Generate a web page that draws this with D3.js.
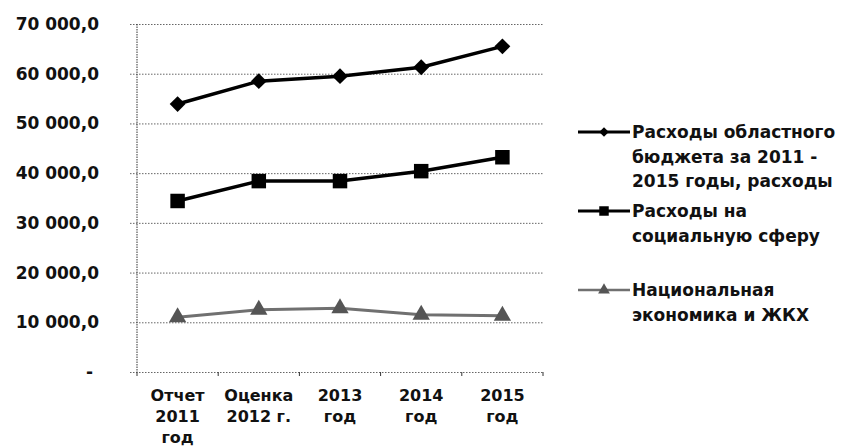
<!DOCTYPE html>
<html>
<head>
<meta charset="utf-8">
<script src="https://cdn.jsdelivr.net/npm/d3@7"></script>
<style>
  body { margin: 0; background: #fff; }
  svg text { font-family: "DejaVu Sans", sans-serif; font-weight: bold; fill: #111; }
</style>
</head>
<body>
<div id="chart"></div>
<script>
// categories (multi-line labels) and series values
let categories = ["Отчет\n2011\nгод", "Оценка\n2012 г.", "2013\nгод", "2014\nгод", "2015\nгод"];
let budgetTotal = [53900, 58500, 59500, 61300, 65500];
let socialSphere = [34400, 38400, 38400, 40400, 43200];
let economyHousing = [11000, 12500, 12800, 11500, 11300];
let yTicks = [0, 10000, 20000, 30000, 40000, 50000, 60000, 70000];
let seriesNames = [
  ["Расходы областного", "бюджета за 2011 -", "2015 годы, расходы"],
  ["Расходы на", "социальную сферу"],
  ["Национальная", "экономика и ЖКХ"]
];

let svgWidth = 844, svgHeight = 446;
let plotLeft = 137, plotRight = 543, plotTop = 24, plotBottom = 372;

let svg = d3.select("#chart").append("svg")
  .attr("width", svgWidth)
  .attr("height", svgHeight)

let xScale = d3.scaleBand().domain(categories).range([plotLeft, plotRight])
let yScale = d3.scaleLinear().domain([0, 70000]).range([plotBottom, plotTop])
let cx = d => xScale(d) + xScale.bandwidth() / 2

let ru = d3.formatLocale({decimal: ",", thousands: "\u00a0", grouping: [3], currency: ["", ""]})
let fmt = ru.format(",.1f")

//horizontal gridlines + y labels
let yAxis = d3.axisLeft(yScale)
  .tickValues(yTicks)
  .tickSize(-(plotRight - plotLeft) - 7)
  .tickPadding(31)
  .tickFormat(d => d === 0 ? "-" : fmt(d))

svg.append("g")
  .attr("transform", `translate(${plotLeft - 7},0)`)
  .call(yAxis)
  .call(g => g.select(".domain").remove())
  .call(g => g.selectAll(".tick line")
    .attr("stroke", "#666")
    .attr("stroke-dasharray", "1.5,1.5"))
  .call(g => g.selectAll(".tick text")
    .attr("x", -31)
    .style("font-size", "17px")
    .style("font-family", "DejaVu Sans")
    .style("font-weight", "bold")
    .style("fill", "#111"))
  .call(g => g.selectAll(".tick").filter(d => d === 0).select("text")
    .attr("x", -37))

//vertical axis line
svg.append("line")
  .attr("x1", plotLeft).attr("x2", plotLeft)
  .attr("y1", plotTop).attr("y2", plotBottom)
  .attr("stroke", "#333")
  .attr("stroke-dasharray", "1.5,1")

//x axis ticks at category boundaries
let bounds = categories.map(c => xScale(c)).concat([plotRight])
svg.selectAll(".xtick").data(bounds).enter().append("line")
  .attr("x1", d => d).attr("x2", d => d)
  .attr("y1", plotBottom).attr("y2", plotBottom + 4)
  .attr("stroke", "#333")

//x labels
svg.selectAll(".xlab").data(categories).enter().append("text")
  .attr("text-anchor", "middle")
  .style("font-size", "16px")
  .each(function(d) {
    let t = d3.select(this)
    d.split("\n").forEach((s, i) => {
      t.append("tspan").attr("x", cx(d)).attr("y", 401 + i * 21).text(s)
    })
  })

let line = d3.line().x((d, i) => cx(categories[i])).y(d => yScale(d))

// diamond = square turned 45 degrees
let diamond = d3.symbol().type(d3.symbolSquare).size(125)
let square = d3.symbol().type(d3.symbolSquare).size(210)
let triangle = d3.symbol().type(d3.symbolTriangle).size(130)

let series = [
  {vals: budgetTotal, color: "#000", sym: diamond, rot: 45, width: 3.5},
  {vals: socialSphere, color: "#000", sym: square, rot: 0, width: 3.5},
  {vals: economyHousing, color: "#707070", sym: triangle, rot: 0, width: 3}
]

series.forEach(s => {
  svg.append("path")
    .datum(s.vals)
    .attr("d", line)
    .attr("fill", "none")
    .attr("stroke", s.color)
    .attr("stroke-width", s.width)
  svg.selectAll(null).data(s.vals).enter().append("path")
    .attr("d", s.sym)
    .attr("transform", (d, i) => `translate(${cx(categories[i])},${yScale(d)}) rotate(${s.rot})`)
    .attr("fill", s.color === "#000" ? "#000" : "#555")
})

//legend
let legendY = [132, 211, 290]
let legendSym = [
  d3.symbol().type(d3.symbolSquare).size(45),
  d3.symbol().type(d3.symbolSquare).size(90),
  d3.symbol().type(d3.symbolTriangle).size(60)
]
series.forEach((s, k) => {
  let g = svg.append("g").attr("transform", `translate(0,${legendY[k]})`)
  g.append("line")
    .attr("x1", 578).attr("x2", 630)
    .attr("stroke", s.color).attr("stroke-width", s.width - 0.5)
  g.append("path").attr("d", legendSym[k])
    .attr("transform", `translate(604,0) rotate(${s.rot})`)
    .attr("fill", s.color === "#000" ? "#000" : "#555")
  let t = g.append("text").style("font-size", "17px")
  seriesNames[k].forEach((n, i) => {
    t.append("tspan").attr("x", 632).attr("y", 6 + i * 24.5).text(n)
  })
})
</script>
</body>
</html>
